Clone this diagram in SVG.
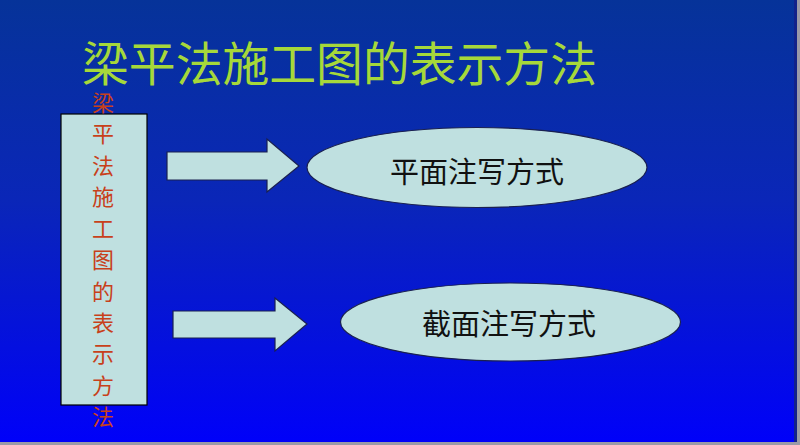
<svg xmlns="http://www.w3.org/2000/svg" width="800" height="445" viewBox="0 0 800 445">
<defs>
<linearGradient id="bg" x1="0" y1="0" x2="0" y2="1">
<stop offset="0" stop-color="#063399"/>
<stop offset="0.45" stop-color="#0A26B8"/>
<stop offset="1" stop-color="#0000FA"/>
</linearGradient>
<style>
.shape{fill:#BFE0E0;stroke:#1A2050;stroke-width:1.2}
.cjk{font-family:"Noto Sans CJK SC","Noto Sans",sans-serif}
.title{font-size:47px;fill:#A6D83A}
.vt{font-size:22px;fill:#C8401A;text-anchor:middle}
.lbl{font-size:29px;fill:#111111;text-anchor:middle}
</style>
</defs>
<rect x="0" y="0" width="800" height="445" fill="url(#bg)"/>
<rect x="794" y="0" width="3" height="445" fill="#12228A"/>
<rect x="797" y="0" width="3" height="445" fill="#9A9AA8"/>
<rect x="0" y="442" width="800" height="3" fill="#9A9AA8"/>
<text class="cjk title" x="82" y="81" textLength="515" lengthAdjust="spacingAndGlyphs">梁平法施工图的表示方法</text>
<g id="left-box">
<rect x="61" y="114" width="86" height="291" fill="#BFE0E0" stroke="#000" stroke-width="1.2"/>
<g class="cjk vt">
<text x="103" y="111">梁</text>
<text x="103" y="142">平</text>
<text x="103" y="174">法</text>
<text x="103" y="205">施</text>
<text x="103" y="237">工</text>
<text x="103" y="268">图</text>
<text x="103" y="300">的</text>
<text x="103" y="331">表</text>
<text x="103" y="362">示</text>
<text x="103" y="394">方</text>
<text x="103" y="425">法</text>
</g>
</g>
<g id="connectors">
<polygon class="shape" points="167,152 267,152 267,139 299,166 267,192 267,180 167,180"/>
<polygon class="shape" points="173,311 275,311 275,298 307,324 275,351 275,338 173,338"/>
</g>
<g id="node-plane">
<ellipse class="shape" cx="477" cy="167.5" rx="170" ry="40"/>
<text class="cjk lbl" x="477" y="183">平面注写方式</text>
</g>
<g id="node-section">
<ellipse class="shape" cx="510.5" cy="322" rx="170" ry="39"/>
<text class="cjk lbl" x="509" y="335">截面注写方式</text>
</g>
</svg>
